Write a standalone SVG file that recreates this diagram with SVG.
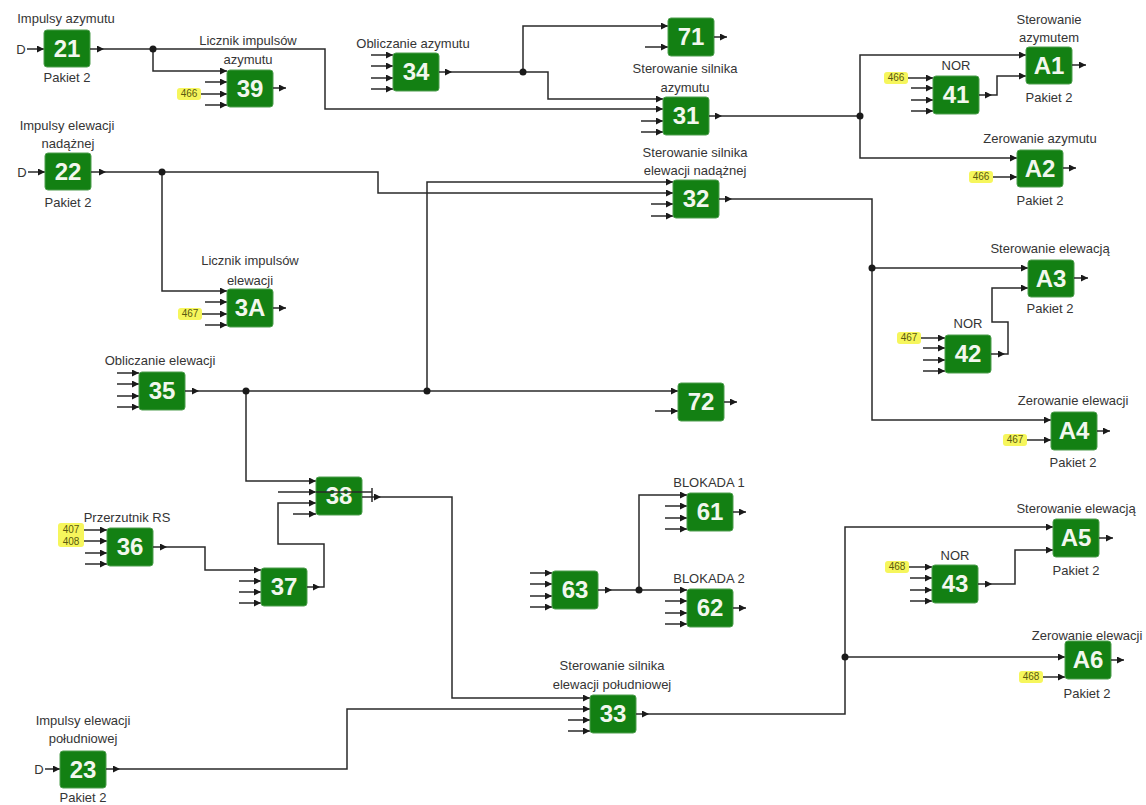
<svg xmlns="http://www.w3.org/2000/svg" width="1146" height="805" viewBox="0 0 1146 805">
<style>
.box{fill:#138013;stroke:#4e9e4e;stroke-width:1}
.num{font-family:"Liberation Sans",Arial,sans-serif;font-weight:bold;font-size:24px;fill:#f2f7ee;text-anchor:middle}
.lbl{font-family:"Liberation Sans",Arial,sans-serif;font-size:13px;fill:#353535;text-anchor:middle}
.ln{stroke:#2a2a2a;stroke-width:1.5;fill:none}
.a{stroke:#2a2a2a;stroke-width:1.5;fill:none;marker-end:url(#arr)}
.tag{font-family:"Liberation Sans",Arial,sans-serif;font-size:10px;fill:#5a5a10;text-anchor:middle}
.tagbg{fill:#f6f65c}
.dot{fill:#1a1a1a}
</style>
<defs>
<marker id="arr" markerUnits="userSpaceOnUse" markerWidth="8" markerHeight="8" refX="7" refY="3.5" orient="auto">
<path d="M0,0 L7,3.5 L0,7 z" fill="#1a1a1a"/>
</marker>
</defs>
<rect width="1146" height="805" fill="#ffffff"/>

<g id="connectors">
<path class="a" d="M104,49H325V109H663"/>
<path class="a" d="M153,49V71H227"/>
<path class="a" d="M452,72H548V99H663"/>
<path class="a" d="M523,72V26H668"/>
<path class="a" d="M722,116H860V55H1026"/>
<path class="a" d="M860,116V158H1017"/>
<path class="a" d="M992,95H997V76H1026"/>
<path class="a" d="M106,172H378V193H673"/>
<path class="a" d="M162,172V291H227"/>
<path class="a" d="M199,391H678"/>
<path class="a" d="M427,391V182H673"/>
<path class="a" d="M246,391V481H316"/>
<path class="a" d="M732,199H872V420H1051"/>
<path class="a" d="M872,268H1028"/>
<path class="a" d="M1005,354H1008V322H992V288H1028"/>
<path class="a" d="M167,547H205V570H261"/>
<path class="a" d="M320,587H324V544H278V503H316"/>
<path class="a" d="M381,497H452V698H590"/>
<path class="a" d="M612,590H687"/>
<path class="a" d="M639,590V495H687"/>
<path class="a" d="M649,714H845V527H1053"/>
<path class="a" d="M845,657H1065"/>
<path class="a" d="M992,584H1015V550H1053"/>
<path class="a" d="M120,769H347V709H590"/>
<circle class="dot" cx="153" cy="49" r="3.5"/>
<circle class="dot" cx="523" cy="72" r="3.5"/>
<circle class="dot" cx="860" cy="116" r="3.5"/>
<circle class="dot" cx="162" cy="172" r="3.5"/>
<circle class="dot" cx="246" cy="391" r="3.5"/>
<circle class="dot" cx="427" cy="391" r="3.5"/>
<circle class="dot" cx="872" cy="268" r="3.5"/>
<circle class="dot" cx="639" cy="590" r="3.5"/>
<circle class="dot" cx="845" cy="657" r="3.5"/>
</g>

<g id="n21">
<text class="lbl" x="66" y="23">Impulsy azymutu</text>
<text class="lbl" x="21" y="54">D</text>
<path class="a" d="M27,49H44"/>
<rect class="box" x="44" y="30" width="46" height="37" rx="3"/>
<text class="num" x="67" y="57">21</text>
<path class="a" d="M90,49H104"/>
<text class="lbl" x="67" y="82">Pakiet 2</text>
</g>

<g id="n39">
<text class="lbl" x="248" y="45">Licznik impulsów</text>
<text class="lbl" x="248" y="64">azymutu</text>
<path class="a" d="M205,82H227"/>
<rect class="tagbg" x="177" y="88" width="24" height="12" rx="3"/>
<text class="tag" x="189" y="97">466</text>
<path class="a" d="M201,94H227"/>
<path class="a" d="M205,105H227"/>
<rect class="box" x="227" y="70" width="46" height="37" rx="3"/>
<text class="num" x="250" y="97">39</text>
<path class="a" d="M273,88H286"/>
</g>

<g id="n34">
<text class="lbl" x="413" y="48">Obliczanie azymutu</text>
<path class="a" d="M371,55H393"/>
<path class="a" d="M371,66H393"/>
<path class="a" d="M371,78H393"/>
<path class="a" d="M371,89H393"/>
<rect class="box" x="393" y="53" width="46" height="38" rx="3"/>
<text class="num" x="416" y="80">34</text>
<path class="a" d="M439,72H452"/>
</g>

<g id="n71">
<path class="a" d="M645,47H668"/>
<rect class="box" x="668" y="18" width="46" height="38" rx="3"/>
<text class="num" x="691" y="45">71</text>
<path class="a" d="M714,37H727"/>
</g>

<g id="n31">
<text class="lbl" x="685" y="73">Sterowanie silnika</text>
<text class="lbl" x="685" y="92">azymutu</text>
<path class="a" d="M641,121H663"/>
<path class="a" d="M641,132H663"/>
<rect class="box" x="663" y="97" width="46" height="38" rx="3"/>
<text class="num" x="686" y="124">31</text>
<path class="a" d="M709,116H722"/>
</g>

<g id="nA1">
<text class="lbl" x="1049" y="24">Sterowanie</text>
<text class="lbl" x="1049" y="42">azymutem</text>
<rect class="box" x="1026" y="47" width="46" height="37" rx="3"/>
<text class="num" x="1049" y="74">A1</text>
<path class="a" d="M1072,65H1086"/>
<text class="lbl" x="1049" y="102">Pakiet 2</text>
</g>

<g id="n41">
<text class="lbl" x="956" y="70">NOR</text>
<rect class="tagbg" x="884" y="72" width="24" height="12" rx="3"/>
<text class="tag" x="896" y="81">466</text>
<path class="a" d="M908,78H933"/>
<path class="a" d="M911,88H933"/>
<path class="a" d="M911,100H933"/>
<path class="a" d="M911,111H933"/>
<rect class="box" x="933" y="76" width="46" height="38" rx="3"/>
<text class="num" x="956" y="103">41</text>
<path class="a" d="M979,95H992"/>
</g>

<g id="nA2">
<text class="lbl" x="1040" y="143">Zerowanie azymutu</text>
<rect class="tagbg" x="969" y="171" width="24" height="12" rx="3"/>
<text class="tag" x="981" y="180">466</text>
<path class="a" d="M993,177H1017"/>
<rect class="box" x="1017" y="150" width="46" height="37" rx="3"/>
<text class="num" x="1040" y="177">A2</text>
<path class="a" d="M1063,168H1076"/>
<text class="lbl" x="1040" y="205">Pakiet 2</text>
</g>

<g id="n22">
<text class="lbl" x="67" y="130">Impulsy elewacji</text>
<text class="lbl" x="68" y="148">nadążnej</text>
<text class="lbl" x="22" y="177">D</text>
<path class="a" d="M28,172H45"/>
<rect class="box" x="45" y="153" width="46" height="37" rx="3"/>
<text class="num" x="68" y="180">22</text>
<path class="a" d="M91,172H106"/>
<text class="lbl" x="68" y="207">Pakiet 2</text>
</g>

<g id="n3A">
<text class="lbl" x="250" y="265">Licznik impulsów</text>
<text class="lbl" x="250" y="285">elewacji</text>
<path class="a" d="M205,302H227"/>
<rect class="tagbg" x="178" y="308" width="24" height="12" rx="3"/>
<text class="tag" x="190" y="317">467</text>
<path class="a" d="M202,314H227"/>
<path class="a" d="M205,325H227"/>
<rect class="box" x="227" y="289" width="46" height="38" rx="3"/>
<text class="num" x="250" y="316">3A</text>
<path class="a" d="M273,308H286"/>
</g>

<g id="n32">
<text class="lbl" x="695" y="157">Sterowanie silnika</text>
<text class="lbl" x="695" y="175">elewacji nadążnej</text>
<path class="a" d="M651,204H673"/>
<path class="a" d="M651,216H673"/>
<rect class="box" x="673" y="180" width="46" height="38" rx="3"/>
<text class="num" x="696" y="207">32</text>
<path class="a" d="M719,199H732"/>
</g>

<g id="nA3">
<text class="lbl" x="1050" y="253">Sterowanie elewacją</text>
<rect class="box" x="1028" y="260" width="46" height="37" rx="3"/>
<text class="num" x="1051" y="287">A3</text>
<path class="a" d="M1074,278H1088"/>
<text class="lbl" x="1050" y="313">Pakiet 2</text>
</g>

<g id="n42">
<text class="lbl" x="968" y="328">NOR</text>
<rect class="tagbg" x="897" y="332" width="24" height="12" rx="3"/>
<text class="tag" x="909" y="341">467</text>
<path class="a" d="M921,338H945"/>
<path class="a" d="M923,348H945"/>
<path class="a" d="M923,360H945"/>
<path class="a" d="M923,371H945"/>
<rect class="box" x="945" y="335" width="46" height="38" rx="3"/>
<text class="num" x="968" y="362">42</text>
<path class="a" d="M991,354H1005"/>
</g>

<g id="nA4">
<text class="lbl" x="1073" y="405">Zerowanie elewacji</text>
<rect class="tagbg" x="1003" y="434" width="24" height="12" rx="3"/>
<text class="tag" x="1015" y="443">467</text>
<path class="a" d="M1027,440H1051"/>
<rect class="box" x="1051" y="412" width="46" height="38" rx="3"/>
<text class="num" x="1074" y="439">A4</text>
<path class="a" d="M1097,431H1110"/>
<text class="lbl" x="1073" y="467">Pakiet 2</text>
</g>

<g id="n35">
<text class="lbl" x="160" y="365">Obliczanie elewacji</text>
<path class="a" d="M117,373H139"/>
<path class="a" d="M117,384H139"/>
<path class="a" d="M117,396H139"/>
<path class="a" d="M117,407H139"/>
<rect class="box" x="139" y="372" width="46" height="38" rx="3"/>
<text class="num" x="162" y="399">35</text>
<path class="a" d="M185,391H199"/>
</g>

<g id="n72">
<path class="a" d="M655,411H678"/>
<rect class="box" x="678" y="383" width="46" height="38" rx="3"/>
<text class="num" x="701" y="410">72</text>
<path class="a" d="M724,402H737"/>
</g>

<g id="n38">
<path class="a" d="M278,492H316"/>
<path class="a" d="M293,514H316"/>
<rect class="box" x="316" y="477" width="46" height="38" rx="3"/>
<text class="num" x="339" y="504">38</text>
<path class="ln" d="M316,492H372"/>
<path class="ln" d="M372,488V502"/>
<path class="a" d="M362,497H381"/>
</g>

<g id="n36">
<text class="lbl" x="127" y="522">Przerzutnik RS</text>
<rect class="tagbg" x="58" y="523" width="26" height="24" rx="3"/>
<text class="tag" x="71" y="533">407</text>
<text class="tag" x="71" y="545">408</text>
<path class="a" d="M84,530H107"/>
<path class="a" d="M84,541H107"/>
<path class="a" d="M85,553H107"/>
<path class="a" d="M85,564H107"/>
<rect class="box" x="107" y="528" width="46" height="38" rx="3"/>
<text class="num" x="130" y="555">36</text>
<path class="a" d="M153,547H167"/>
</g>

<g id="n37">
<path class="a" d="M239,581H261"/>
<path class="a" d="M239,592H261"/>
<path class="a" d="M239,603H261"/>
<rect class="box" x="261" y="568" width="46" height="38" rx="3"/>
<text class="num" x="284" y="595">37</text>
<path class="a" d="M307,587H320"/>
</g>

<g id="n61">
<text class="lbl" x="709" y="487">BLOKADA 1</text>
<path class="a" d="M665,506H687"/>
<path class="a" d="M665,518H687"/>
<path class="a" d="M665,529H687"/>
<rect class="box" x="687" y="493" width="46" height="38" rx="3"/>
<text class="num" x="710" y="520">61</text>
<path class="a" d="M733,512H746"/>
</g>

<g id="n63">
<path class="a" d="M530,573H552"/>
<path class="a" d="M530,584H552"/>
<path class="a" d="M530,596H552"/>
<path class="a" d="M530,607H552"/>
<rect class="box" x="552" y="571" width="46" height="38" rx="3"/>
<text class="num" x="575" y="598">63</text>
<path class="a" d="M598,590H612"/>
</g>

<g id="n62">
<text class="lbl" x="709" y="583">BLOKADA 2</text>
<path class="a" d="M665,601H687"/>
<path class="a" d="M665,613H687"/>
<path class="a" d="M665,624H687"/>
<rect class="box" x="687" y="589" width="46" height="38" rx="3"/>
<text class="num" x="710" y="616">62</text>
<path class="a" d="M733,608H746"/>
</g>

<g id="nA5">
<text class="lbl" x="1076" y="513">Sterowanie elewacją</text>
<rect class="box" x="1053" y="519" width="46" height="38" rx="3"/>
<text class="num" x="1076" y="546">A5</text>
<path class="a" d="M1099,538H1113"/>
<text class="lbl" x="1076" y="575">Pakiet 2</text>
</g>

<g id="n43">
<text class="lbl" x="955" y="560">NOR</text>
<rect class="tagbg" x="885" y="561" width="24" height="12" rx="3"/>
<text class="tag" x="897" y="570">468</text>
<path class="a" d="M909,567H932"/>
<path class="a" d="M910,578H932"/>
<path class="a" d="M910,590H932"/>
<path class="a" d="M910,601H932"/>
<rect class="box" x="932" y="565" width="46" height="38" rx="3"/>
<text class="num" x="955" y="592">43</text>
<path class="a" d="M978,584H992"/>
</g>

<g id="nA6">
<text class="lbl" x="1087" y="640">Zerowanie elewacji</text>
<rect class="tagbg" x="1019" y="671" width="24" height="12" rx="3"/>
<text class="tag" x="1031" y="680">468</text>
<path class="a" d="M1043,677H1065"/>
<rect class="box" x="1065" y="641" width="46" height="38" rx="3"/>
<text class="num" x="1088" y="668">A6</text>
<path class="a" d="M1111,660H1124"/>
<text class="lbl" x="1087" y="698">Pakiet 2</text>
</g>

<g id="n33">
<text class="lbl" x="612" y="670">Sterowanie silnika</text>
<text class="lbl" x="612" y="689">elewacji południowej</text>
<path class="a" d="M568,720H590"/>
<path class="a" d="M568,731H590"/>
<rect class="box" x="590" y="695" width="46" height="38" rx="3"/>
<text class="num" x="613" y="722">33</text>
<path class="a" d="M636,714H649"/>
</g>

<g id="n23">
<text class="lbl" x="83" y="725">Impulsy elewacji</text>
<text class="lbl" x="83" y="743">południowej</text>
<text class="lbl" x="39" y="774">D</text>
<path class="a" d="M45,769H60"/>
<rect class="box" x="60" y="751" width="46" height="37" rx="3"/>
<text class="num" x="83" y="778">23</text>
<path class="a" d="M106,769H120"/>
<text class="lbl" x="83" y="802">Pakiet 2</text>
</g>
</svg>
